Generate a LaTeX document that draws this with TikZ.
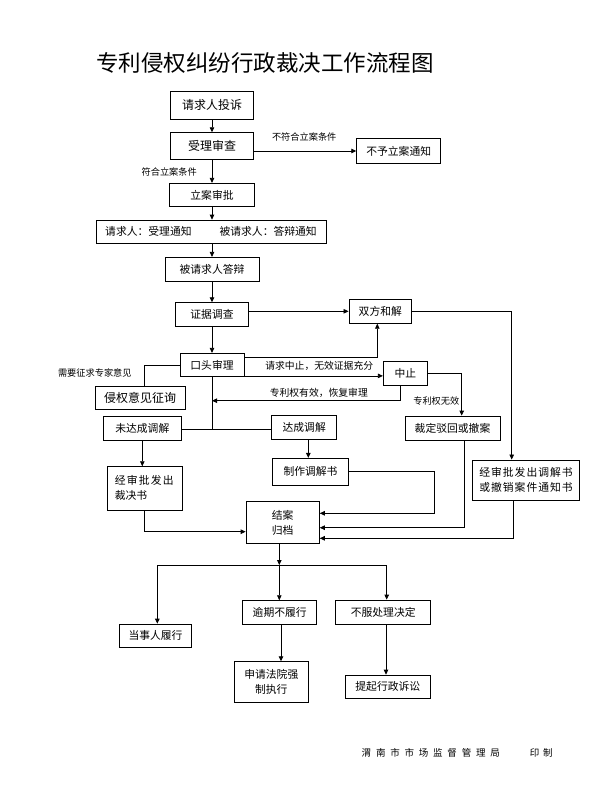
\documentclass[tikz,border=0pt]{standalone}
\usepackage{fontspec}
\setmainfont{Noto Sans CJK SC}
\usetikzlibrary{arrows.meta,calc}
\begin{document}
\begin{tikzpicture}[x=1pt,y=-1pt,
  bx/.style={draw, line width=0.8pt, inner sep=0pt, align=center, font=\fontsize{10.8pt}{15pt}\selectfont},
  big/.style={font=\fontsize{12pt}{14pt}\selectfont},
  lbl/.style={inner sep=0pt, font=\fontsize{9.2pt}{11pt}\selectfont},
  lblb/.style={inner sep=0pt, font=\fontsize{9.8pt}{11pt}\selectfont},
  arr/.style={line width=0.8pt, -{Triangle[length=5pt,width=4.5pt]}},
  ln/.style={line width=0.8pt}]
\useasboundingbox (0,0) rectangle (595,800);
\fill[white] (0,0) rectangle (595,800);

\node[inner sep=0pt,font=\fontsize{22.5pt}{26pt}\selectfont] (title) at (265,63) {专利侵权纠纷行政裁决工作流程图};

\node[bx,big,minimum width=83.3pt,minimum height=27.3pt] (tousu) at (212,105.3) {请求人投诉};
\node[bx,big,minimum width=82.3pt,minimum height=26.3pt] (shencha) at (212,145.8) {受理审查};
\node[bx,minimum width=84pt,minimum height=24.6pt] (buyu) at (398.7,151) {不予立案通知};
\node[bx,minimum width=84.3pt,minimum height=23.4pt] (shenpi) at (212,195) {立案审批};
\node[bx,minimum width=230pt,minimum height=23.3pt] (tongzhi) at (211,231.7) {请求人：受理通知\hspace{28pt}被请求人：答辩通知};
\node[bx,minimum width=94pt,minimum height=24.4pt] (dabian) at (212,269.5) {被请求人答辩};
\node[bx,minimum width=73pt,minimum height=24pt] (diaocha) at (212,314.7) {证据调查};
\node[bx,minimum width=62.7pt,minimum height=24pt] (hejie) at (380.3,311.3) {双方和解};
\node[bx,minimum width=64pt,minimum height=23.4pt] (koutou) at (212,365) {口头审理};
\node[bx,big,minimum width=90pt,minimum height=22.6pt] (zhengxun) at (140,398) {侵权意见征询};
\node[bx,minimum width=44pt,minimum height=24pt] (zhongzhi) at (405.3,373) {中止};
\node[bx,minimum width=77.5pt,minimum height=23.7pt] (weida) at (142.3,428.2) {未达成调解};
\node[bx,minimum width=65pt,minimum height=24.3pt] (dacheng) at (304.2,427.2) {达成调解};
\node[bx,minimum width=95pt,minimum height=24pt] (caiding) at (452.5,428) {裁定驳回或撤案};
\node[bx,minimum width=75.6pt,minimum height=26.7pt] (zhizuo) at (310.5,471.7) {制作调解书};
\node[bx,align=left,text width=60pt,minimum width=75pt,minimum height=43.3pt] (caijue) at (144.8,488.3) {经\hspace{1.2pt}审\hspace{1.2pt}批\hspace{1.2pt}发\hspace{1.2pt}出\\裁决书};
\node[bx,minimum width=106.6pt,minimum height=40.7pt] (tiaojie) at (526,480.3) {经\hspace{1pt}审\hspace{1pt}批\hspace{1pt}发\hspace{1pt}出\hspace{1pt}调\hspace{1pt}解\hspace{1pt}书\\或\hspace{1pt}撤\hspace{1pt}销\hspace{1pt}案\hspace{1pt}件\hspace{1pt}通\hspace{1pt}知\hspace{1pt}书};
\node[bx,minimum width=73.3pt,minimum height=41.6pt] (jiean) at (282.7,522.5) {结案\\归档};
\node[bx,minimum width=72.4pt,minimum height=23.3pt] (lvxing) at (155.5,635.7) {当事人履行};
\node[bx,minimum width=74pt,minimum height=23.3pt] (yuqi) at (279.7,612.3) {逾期不履行};
\node[bx,minimum width=95pt,minimum height=24pt] (bufu) at (383.2,612) {不服处理决定};
\node[bx,minimum width=74pt,minimum height=41pt] (qiangzhi) at (271.3,682.2) {申请法院强\\制执行};
\node[bx,minimum width=85.7pt,minimum height=23.3pt] (susong) at (387.8,686.7) {提起行政诉讼};

\node[lbl] (l1) at (304.2,136.7) {不符合立案条件};
\node[lbl] (l2) at (169.2,171.7) {符合立案条件};
\node[lbl] (l3) at (94.8,372.7) {需要征求专家意见};
\node[lblb] (l4) at (319.2,366) {请求中止，无效证据充分};
\node[lblb] (l5) at (318.8,392.7) {专利权有效，恢复审理};
\node[lbl] (l6) at (436.3,400.7) {专利权无效};

\node[inner sep=0pt,font=\fontsize{9.5pt}{11pt}\selectfont] (foot) at (430.8,753.3) {渭\hspace{4.8pt}南\hspace{4.8pt}市\hspace{4.8pt}市\hspace{4.8pt}场\hspace{4.8pt}监\hspace{4.8pt}督\hspace{4.8pt}管\hspace{4.8pt}理\hspace{4.8pt}局};
\node[inner sep=0pt,font=\fontsize{9.5pt}{11pt}\selectfont] (yin) at (541.3,753.3) {印\hspace{3.7pt}制};

% connectors
\draw[arr] (tousu) -- (shencha);
\draw[arr] (shencha.east |- buyu.west) -- (buyu.west);
\draw[arr] (shencha) -- (shenpi);
\draw[arr] (shenpi) -- (tongzhi.north -| shenpi.south);
\draw[arr] (tongzhi.south -| dabian.north) -- (dabian);
\draw[arr] (dabian) -- (diaocha);
\draw[arr] (diaocha.east |- hejie.west) -- (hejie.west);
\draw[arr] (diaocha) -- (koutou);
\draw[ln] (koutou.west) -| (zhengxun.north -| 144.3,0);
\coordinate (k1) at ($(koutou.north east)+(0,4)$);
\draw[arr] (k1) -| (hejie.south -| 377.3,0);
\coordinate (k2) at ($(koutou.south east)+(0,-1.2)$);
\draw[arr] (k2) -- (zhongzhi.west |- k2);
\coordinate (z3) at ($(zhongzhi.south)+(-5.3,0)$);
\draw[arr] (z3) |- (koutou.south |- 0,400.7);
\draw[ln] (koutou.south) -- (koutou.south |- 0,429.3);
\draw[ln] (weida.east |- 0,429.3) -- (dacheng.west |- 0,429.3);
\draw[arr] (zhongzhi.east) -| (caiding.north -| 461.7,0);
\draw[arr] (hejie.east) -| (tiaojie.north -| 511.7,0);
\draw[arr] (weida) -- (caijue.north -| weida.south);
\draw[arr] (dacheng.south -| 308.3,0) -- (zhizuo.north -| 308.3,0);
\draw[arr] (caijue.south) |- (jiean.west |- 0,531.7);
\draw[arr] (zhizuo.east) -| (434,513.3) -- (jiean.east |- 0,513.3);
\draw[arr] (caiding.south -| 464,0) |- (jiean.east |- 0,527.7);
\draw[arr] (tiaojie.south -| 513.3,0) |- (jiean.east |- 0,538.3);
\coordinate (bl) at (157.3,565);
\coordinate (bm) at (279.3,565);
\coordinate (br) at (386.7,565);
\draw[arr] (jiean.south -| bm) -- (bm);
\draw[ln] (bl) -- (br);
\draw[arr] (bl) -- (bl |- lvxing.north);
\draw[arr] (bm) -- (bm |- yuqi.north);
\draw[arr] (br) -- (br |- bufu.north);
\draw[arr] (yuqi.south -| 281,0) -- (qiangzhi.north -| 281,0);
\draw[arr] (bufu.south -| 386,0) -- (susong.north -| 386,0);
\end{tikzpicture}
\end{document}
